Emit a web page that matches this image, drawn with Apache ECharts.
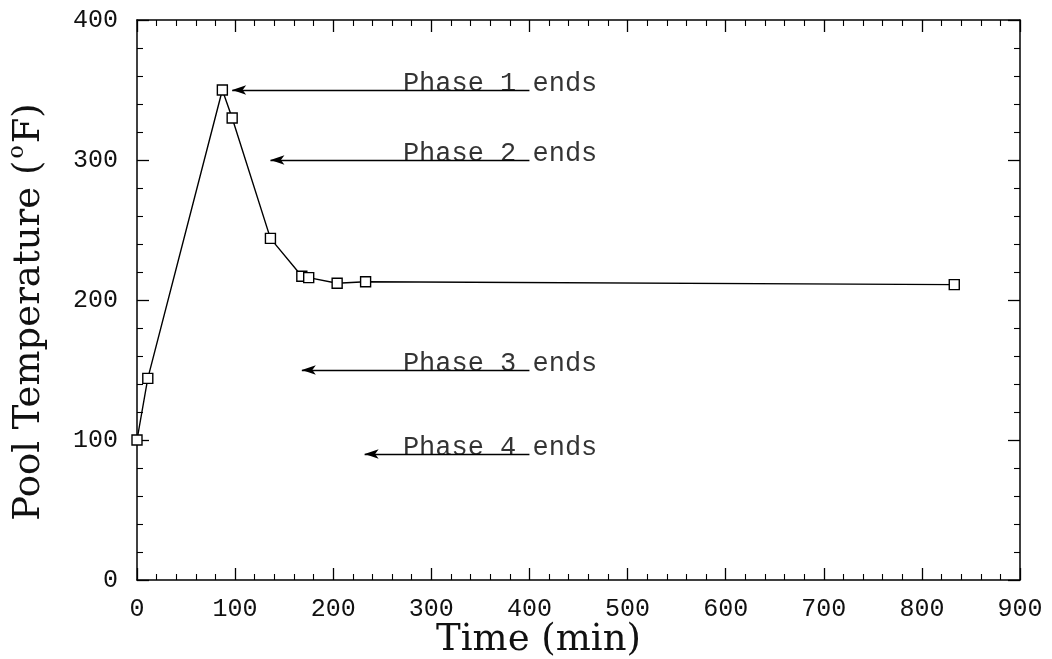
<!DOCTYPE html>
<html>
<head>
<meta charset="utf-8">
<script src="https://cdn.jsdelivr.net/npm/echarts@6/dist/echarts.min.js"></script>
<style>html,body{margin:0;padding:0;background:#fff}#c{width:1052px;height:659px}</style>
</head>
<body>
<div id="c"></div>
<script>
// Data
const timeMin = [0, 11, 87, 97, 136, 168, 175, 204, 233, 833];
const poolTempF = [100, 144, 350, 330, 244, 217, 216, 212, 213, 211];

const phaseLabels = ['Phase 1 ends', 'Phase 2 ends', 'Phase 3 ends', 'Phase 4 ends'];
const phaseArrowTime = [97, 136, 168, 232];
const phaseArrowTemp = [350, 300, 150, 90];
const phaseLineEnd = 400;
const phaseLabelTime = 271;

const xTicks = [0, 100, 200, 300, 400, 500, 600, 700, 800, 900];
const yTicks = [0, 100, 200, 300, 400];

const chart = echarts.init(document.getElementById('c'), null, {renderer: 'canvas'});

const tickFont = {fontFamily: 'Liberation Mono', fontSize: 25, color: '#111'};
function axisCommon() {
  return {
    axisLine: {show: true, onZero: false, lineStyle: {color: '#000', width: 1.5}},
    axisTick: {show: true, inside: true, length: 12, lineStyle: {color: '#000', width: 1.3}},
    minorTick: {show: true, splitNumber: 5, length: 6, lineStyle: {color: '#000', width: 1.1}},
    splitLine: {show: false}
  };
}

const mainData = timeMin.map((t, i) => [t, poolTempF[i]]);
const arrows = phaseArrowTime.map((t, i) => [
  {coord: [t, phaseArrowTemp[i]]},
  {coord: [phaseLineEnd, phaseArrowTemp[i]]}
]);
const labelData = phaseLabels.map((s, i) => [phaseLabelTime, phaseArrowTemp[i], s]);

chart.setOption({
  animation: false,
  backgroundColor: '#fff',
  grid: {left: 137, right: 32, top: 20, bottom: 79, containLabel: false, outerBoundsMode: 'none'},
  xAxis: [
    Object.assign(axisCommon(), {
      type: 'value', min: xTicks[0], max: xTicks[xTicks.length - 1], interval: 100,
      position: 'bottom',
      axisLabel: Object.assign({margin: 17}, tickFont),
      name: 'Time (min)', nameLocation: 'middle', nameGap: 42, nameMoveOverlap: false,
      nameTextStyle: {fontFamily: 'DejaVu Serif', fontSize: 37, color: '#111', padding: [0, 80, 0, 0]}
    }),
    Object.assign(axisCommon(), {
      type: 'value', min: xTicks[0], max: xTicks[xTicks.length - 1], interval: 100,
      position: 'top', axisLabel: {show: false}
    })
  ],
  yAxis: [
    Object.assign(axisCommon(), {
      type: 'value', min: yTicks[0], max: yTicks[yTicks.length - 1], interval: 100,
      position: 'left',
      axisLabel: Object.assign({margin: 19}, tickFont),
      name: '{t|Pool Temperature (}{s|o}{t|F)}', nameLocation: 'middle', nameGap: 85, nameRotate: 90,
      nameMoveOverlap: false,
      nameTextStyle: {
        padding: [0, 24, 0, 0],
        rich: {
          t: {fontFamily: 'DejaVu Serif', fontSize: 37, lineHeight: 46, color: '#111'},
          s: {fontFamily: 'DejaVu Serif', fontSize: 22, lineHeight: 22, color: '#111', verticalAlign: 'top', padding: [0, 2, 0, 2]}
        }
      }
    }),
    Object.assign(axisCommon(), {
      type: 'value', min: yTicks[0], max: yTicks[yTicks.length - 1], interval: 100,
      position: 'right', axisLabel: {show: false}
    })
  ],
  series: [
    {
      type: 'line',
      data: mainData,
      symbol: 'rect', symbolSize: 10, showAllSymbol: true,
      lineStyle: {color: '#000', width: 1.4},
      itemStyle: {color: '#fff', borderColor: '#000', borderWidth: 1.4},
      markLine: {
        silent: true,
        symbol: ['arrow', 'none'],
        symbolSize: [7, 14],
        lineStyle: {color: '#000', width: 1.3, type: 'solid'},
        label: {show: false},
        data: arrows
      },
      z: 3
    },
    {
      type: 'scatter',
      data: labelData,
      symbolSize: 0,
      label: {
        show: true, position: 'right', distance: 0,
        formatter: p => p.value[2],
        fontFamily: 'Liberation Mono', fontSize: 27, color: '#000',
        verticalAlign: 'bottom', offset: [0, 7]
      },
      z: 4
    }
  ]
});
</script>
</body>
</html>
